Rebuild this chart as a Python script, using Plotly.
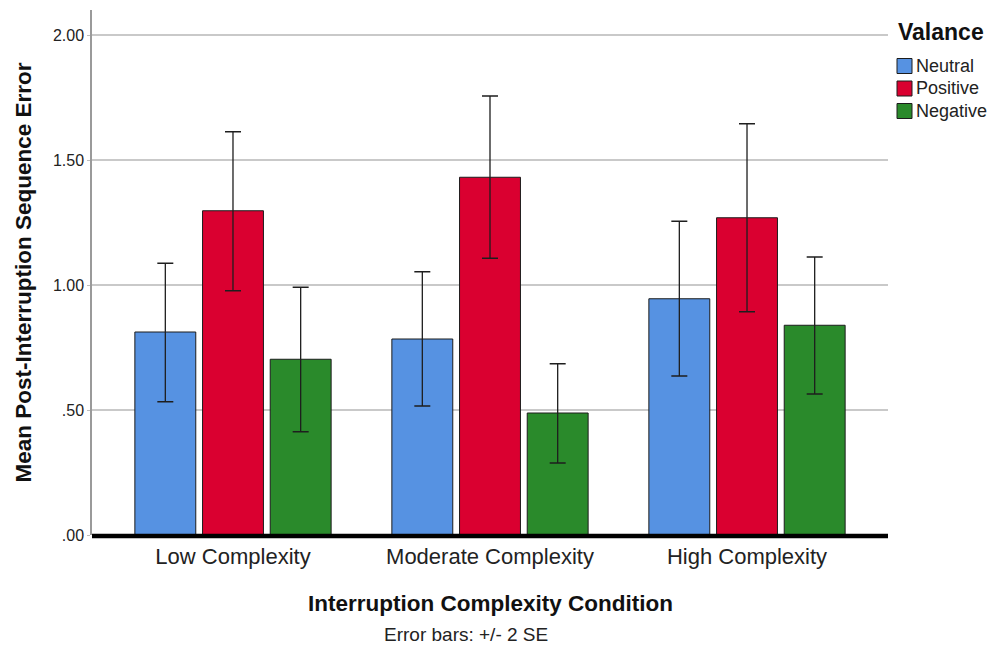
import plotly.graph_objects as go

# Category and series data
conditions = ["Low Complexity", "Moderate Complexity", "High Complexity"]
series_names = ["Neutral", "Positive", "Negative"]
series_colors = ["#5692E2", "#DA0030", "#2A8A2B"]

# Mean post-interruption sequence error per valence
neutral_mean = [0.812, 0.784, 0.945]
positive_mean = [1.297, 1.431, 1.269]
negative_mean = [0.703, 0.488, 0.839]

# Error bar bounds (+/- 2 SE)
neutral_upper = [1.087, 1.053, 1.255]
neutral_lower = [0.533, 0.516, 0.636]
positive_upper = [1.613, 1.756, 1.645]
positive_lower = [0.977, 1.107, 0.893]
negative_upper = [0.991, 0.685, 1.112]
negative_lower = [0.413, 0.288, 0.564]

y_tickvals = [0.0, 0.5, 1.0, 1.5, 2.0]
y_ticktext = [".00", ".50", "1.00", "1.50", "2.00"]

means = [neutral_mean, positive_mean, negative_mean]
uppers = [neutral_upper, positive_upper, negative_upper]
lowers = [neutral_lower, positive_lower, negative_lower]

FONT = "Liberation Sans, Arial, sans-serif"
W, H = 992, 653
ML, MR, MT, MB = 92, 104, 10, 118
PW, PH = W - ML - MR, H - MT - MB


def px_x(x):
    return (x - ML) / PW


def px_y(y):
    return (H - MB - y) / PH


fig = go.Figure()
for name, color, m, up, lo in zip(series_names, series_colors, means, uppers, lowers):
    fig.add_trace(go.Bar(
        x=conditions,
        y=m,
        name=name,
        marker=dict(color=color, line=dict(color="#1c1c1c", width=1)),
        error_y=dict(
            type="data",
            symmetric=False,
            array=[u - v for u, v in zip(up, m)],
            arrayminus=[v - l for v, l in zip(m, lo)],
            color="#1e1e1e",
            thickness=1.3,
            width=8,
        ),
        showlegend=False,
    ))

shapes = [
    # heavy baseline at zero
    dict(type="line", xref="paper", yref="paper", x0=0, x1=1,
         y0=px_y(536), y1=px_y(536), line=dict(color="black", width=4.5)),
]
annotations = [
    dict(text="<b>Interruption Complexity Condition</b>", xref="paper", yref="paper",
         x=0.5, y=px_y(603), xanchor="center", yanchor="middle", showarrow=False,
         font=dict(family=FONT, size=22.5, color="#111")),
    dict(text="Error bars: +/- 2 SE", xref="paper", yref="paper",
         x=px_x(466), y=px_y(634), xanchor="center", yanchor="middle", showarrow=False,
         font=dict(family=FONT, size=19, color="#222")),
    dict(text="<b>Mean Post-Interruption Sequence Error</b>", xref="paper", yref="paper",
         x=px_x(23), y=0.5, xanchor="center", yanchor="middle", textangle=-90,
         showarrow=False, font=dict(family=FONT, size=22.5, color="#111")),
    dict(text="<b>Valance</b>", xref="paper", yref="paper",
         x=px_x(896), y=px_y(32), xanchor="left", yanchor="middle", showarrow=False,
         font=dict(family=FONT, size=23, color="#111")),
]

# legend swatches and labels
for i, (name, color) in enumerate(zip(series_names, series_colors)):
    cy = 66 + i * 22.5
    shapes.append(dict(type="rect", xref="paper", yref="paper",
                       x0=px_x(897), x1=px_x(912), y0=px_y(cy + 7.5), y1=px_y(cy - 7.5),
                       fillcolor=color, line=dict(color="#1c1c1c", width=1)))
    annotations.append(dict(text=name, xref="paper", yref="paper",
                            x=px_x(914), y=px_y(cy), xanchor="left", yanchor="middle",
                            showarrow=False,
                            font=dict(family=FONT, size=18, color="#222")))

fig.update_layout(
    width=W, height=H,
    margin=dict(l=ML, r=MR, t=MT, b=MB, pad=0),
    paper_bgcolor="white", plot_bgcolor="white",
    barmode="group", bargap=0.21, bargroupgap=0.1,
    font=dict(family=FONT, color="#222"),
    shapes=shapes, annotations=annotations,
    showlegend=False,
)
fig.update_xaxes(
    range=[-0.5486, 2.5486], showgrid=False, showline=False, zeroline=False,
    ticks="", tickfont=dict(family=FONT, size=22, color="#222"),
    ticklabelstandoff=6,
)
fig.update_yaxes(
    range=[0, 2.1], tickvals=y_tickvals, ticktext=y_ticktext,
    showgrid=True, gridcolor="#c9c9c9", gridwidth=1.5, zeroline=False,
    showline=True, linecolor="#9a9a9a", linewidth=1.5,
    ticks="outside", ticklen=3, tickcolor="#bdbdbd",
    tickfont=dict(family=FONT, size=16, color="#222"),
)

fig.write_html("out.html")
